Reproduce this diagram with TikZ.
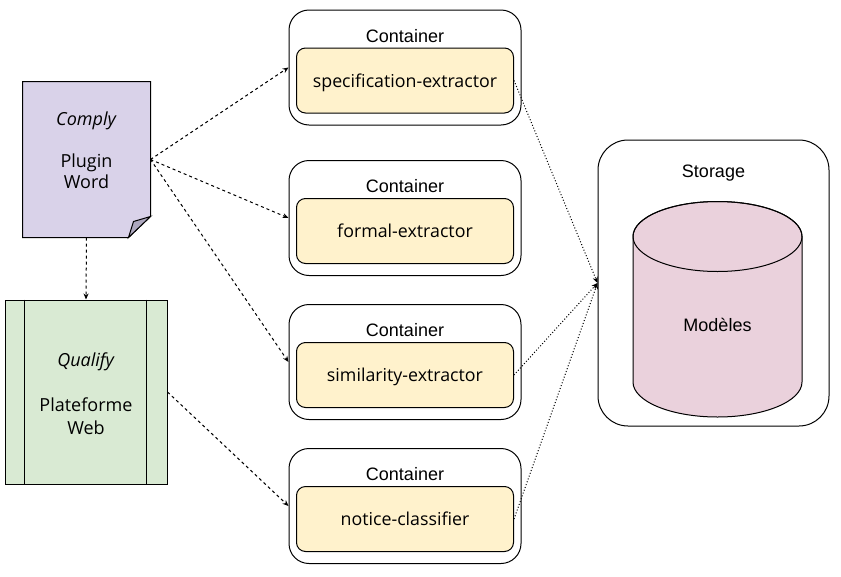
\documentclass[tikz,border=0pt]{standalone}
\usepackage{fontspec}
\setmainfont{Liberation Sans}
\newfontfamily\opensans{Open Sans}
\usetikzlibrary{positioning,arrows.meta}

\definecolor{docfill}{HTML}{D9D2E9}
\definecolor{foldfill}{HTML}{ADA7BE}
\definecolor{procfill}{HTML}{D9EAD3}
\definecolor{svcfill}{HTML}{FFF2CC}
\definecolor{dbfill}{HTML}{EAD1DC}

\begin{document}
\begin{tikzpicture}[
                x=1pt,y=-1pt,line width=1pt,
                every node/.append style={inner sep=0pt,font=\fontsize{18}{21}\selectfont},
                txt/.style={font=\opensans\fontsize{18}{21}\selectfont,align=center},
                container/.style={draw,rounded corners=20pt,minimum width=232pt,minimum height=115pt},
                service/.style={draw,fill=svcfill,rounded corners=9pt,minimum width=217pt,minimum height=65pt,
                    text height=15pt,text depth=2pt,font=\opensans\fontsize{17.8}{21}\selectfont},
                call/.style={-{Stealth[length=6pt,width=5pt]},dash pattern=on 3pt off 3pt},
                load/.style={-{Stealth[length=6pt,width=5pt]},dash pattern=on 1pt off 2pt}
            ]
                \useasboundingbox (0,0) rectangle (841,576);

                % left side: plugin and platform
                \node (comply) at (86.5,159.5) [minimum width=127pt,minimum height=155pt] {};
                \draw[fill=docfill] (comply.north west) -- (comply.north east) -- ([yshift=21pt]comply.south east)
                    -- ([xshift=-22pt]comply.south east) -- (comply.south west) -- cycle;
                \draw[fill=foldfill] ([xshift=-22pt]comply.south east) -- ([yshift=21pt]comply.south east)
                    -- ([xshift=-17pt,yshift=16pt]comply.south east) -- cycle;
                \node[txt] (complytxt) at (86.5,150) {\textit{Comply}\\[21pt]Plugin\\Word};

                \node[draw,fill=procfill,minimum width=162pt,minimum height=184pt] (qualify) at (86,392) {};
                \draw ([xshift=20pt]qualify.north west) -- ([xshift=20pt]qualify.south west);
                \draw ([xshift=-21pt]qualify.north east) -- ([xshift=-21pt]qualify.south east);
                \node[txt,font=\opensans\fontsize{18}{22.5}\selectfont] (qualifytxt) at (86,393.5)
                    {\textit{Qualify}\\[22.5pt]Plateforme\\Web};

                % containers
                \node[container] (box1) at (405,67.5) {};
                \node[container] (box2) at (405,218) {};
                \node[container] (box3) at (405,362) {};
                \node[container] (box4) at (405,506) {};
                \node (lbl1) at ([yshift=31.5pt]box1.center) {Container};
                \node (lbl2) at ([yshift=31.5pt]box2.center) {Container};
                \node (lbl3) at ([yshift=31.5pt]box3.center) {Container};
                \node (lbl4) at ([yshift=31.5pt]box4.center) {Container};
                \node[service] (specx)   at ([yshift=-13pt]box1.center) {specification-extractor};
                \node[service] (formalx) at ([yshift=-13pt]box2.center) {formal-extractor};
                \node[service] (similx)  at ([yshift=-13pt]box3.center) {similarity-extractor};
                \node[service] (noticex) at ([yshift=-13pt]box4.center) {notice-classifier};

                % storage
                \node[draw,rounded corners=30pt,minimum width=231pt,minimum height=286pt] (storage) at (713.5,283) {};
                \node (storlbl) at (713.5,173) {Storage};
                \draw[fill=dbfill] (633,236.5) -- (633,382) arc[start angle=180,end angle=360,x radius=84.5pt,y radius=35pt]
                    -- (802,236.5) arc[start angle=0,end angle=180,x radius=84.5pt,y radius=35pt] -- cycle;
                \draw (717.5,236.5) ellipse[x radius=84.5pt,y radius=35pt];
                \node (models) at (717.5,325) {Modèles};

                % connectors
                \draw[call] (comply.east) -- (box1.west);
                \draw[call] (comply.east) -- (box2.west);
                \draw[call] (comply.east) -- (box3.west);
                \draw[call] (qualify.east) -- (box4.west);
                \draw[call] (comply.south) -- (qualify.north);
                \draw[load] (specx.east) -- (storage.west);
                \draw[load] (similx.east) -- (storage.west);
                \draw[load] (noticex.east) -- (storage.west);
            \end{tikzpicture}
\end{document}
